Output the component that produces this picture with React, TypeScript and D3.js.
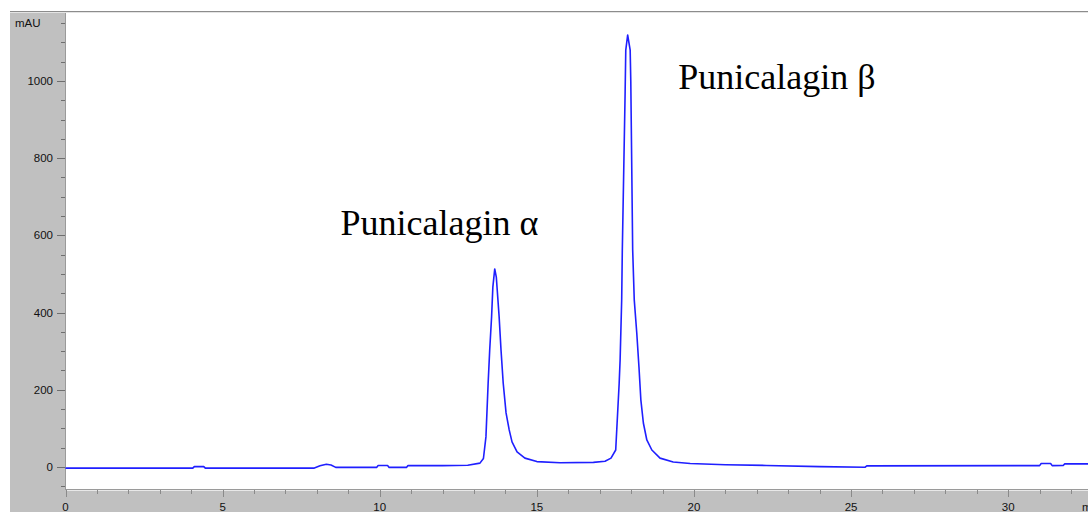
import React, { useRef, useEffect } from 'react';
import * as d3 from 'd3';

// retention time (min) and absorbance (mAU)
const times = [
  0, 4.05, 4.1, 4.4, 4.45, 7.9, 8.1, 8.3, 8.45, 8.6, 8.65, 9.9, 9.95, 10.25, 10.3, 10.85, 10.9,
  12.0, 12.8, 13.19, 13.3, 13.38, 13.45, 13.5, 13.56, 13.6, 13.66, 13.71, 13.8, 13.86, 13.93,
  14.02, 14.12, 14.21, 14.37, 14.62, 15.0, 15.74, 16.8, 17.17, 17.36, 17.51, 17.62, 17.65,
  17.7, 17.72, 17.81, 17.83, 17.89, 17.97, 17.99, 18.05, 18.1, 18.18, 18.25, 18.31, 18.39,
  18.5, 18.66, 18.92, 19.34, 19.88, 21.0, 22.3, 24.0, 25.45, 25.5, 31.0, 31.05, 31.35, 31.4,
  31.75, 31.8, 32.6
];
const absorbance = [
  -3, -3, 1, 1, -3, -3, 3, 7, 5, -1, -1, -1, 4, 4, -1, -1, 4,
  3.5, 4.5, 10, 22, 78, 217, 303, 389, 466, 513, 492, 389, 303, 217,
  140, 96, 65, 39, 23, 14, 11, 12, 15, 23, 44, 217, 277,
  433, 562, 972, 1080, 1119, 1080, 998, 562, 433, 347, 259, 174, 114,
  70, 44, 23, 13, 9, 6, 4, 1, -0.5, 3, 3.5, 9, 9, 3.5,
  4, 8, 8
];

const yMajorTicks = [0, 200, 400, 600, 800, 1000];
const yMinorTicks = d3.range(-50, 1200, 50);
const xMajorTicks = [0, 5, 10, 15, 20, 25, 30];
const xMinorTicks = d3.range(0, 33, 1);

const peakLabels = ['Punicalagin α', 'Punicalagin β'];
const peakLabelAt: [number, number][] = [
  [8.75, 600],
  [19.5, 978]
];

function drawChart(svgEle: SVGSVGElement) {
  const svg = d3.select(svgEle);
  svg.selectAll('*').remove();

  const W = 1088;
  const H = 512;
  const plot = { left: 65.5, top: 13, right: 1088, bottom: 489 };
  const GRAY = '#c0c0c0';
  const AXIS_FONT = '"Liberation Sans", Arial, sans-serif';

  const x = d3.scaleLinear().domain([0, 32.54]).range([plot.left, plot.right]);
  const y = d3.scaleLinear().domain([-57, 1176]).range([plot.bottom, plot.top]);

  // 背景
  svg.append('rect').attr('width', W).attr('height', H).attr('fill', 'white');
  svg.append('rect').attr('x', 10).attr('y', 11).attr('width', W - 10).attr('height', H - 11).attr('fill', GRAY);
  svg.append('line').attr('x1', 10).attr('x2', W).attr('y1', 11.5).attr('y2', 11.5).attr('stroke', '#8c8c8c');
  svg.append('line').attr('x1', 10).attr('x2', W).attr('y1', 12.5).attr('y2', 12.5).attr('stroke', '#e4e4e4');
  svg
    .append('rect')
    .attr('x', plot.left)
    .attr('y', plot.top)
    .attr('width', plot.right - plot.left)
    .attr('height', plot.bottom - plot.top)
    .attr('fill', 'white');

  // y 轴
  svg.append('line').attr('x1', 65.5).attr('x2', 65.5).attr('y1', plot.top).attr('y2', plot.bottom + 2).attr('stroke', '#9a9a9a');
  svg
    .append('g')
    .selectAll('line')
    .data(yMinorTicks)
    .enter()
    .append('line')
    .attr('x1', (d) => (yMajorTicks.includes(d) ? 57 : 61))
    .attr('x2', 65)
    .attr('y1', (d) => Math.round(y(d)) + 0.5)
    .attr('y2', (d) => Math.round(y(d)) + 0.5)
    .attr('stroke', '#6e6e6e');
  svg
    .append('g')
    .selectAll('text')
    .data(yMajorTicks)
    .enter()
    .append('text')
    .attr('x', 53)
    .attr('y', (d) => y(d) + 4)
    .attr('text-anchor', 'end')
    .attr('font-family', AXIS_FONT)
    .attr('font-size', 11.5)
    .attr('fill', '#111')
    .text((d) => d);
  svg
    .append('text')
    .attr('x', 15)
    .attr('y', y(1150) + 4)
    .attr('font-family', AXIS_FONT)
    .attr('font-size', 11.5)
    .attr('fill', '#111')
    .text('mAU');

  // x 轴
  svg.append('line').attr('x1', plot.left).attr('x2', W).attr('y1', 489.5).attr('y2', 489.5).attr('stroke', '#9a9a9a');
  svg.append('line').attr('x1', plot.left).attr('x2', W).attr('y1', 490.5).attr('y2', 490.5).attr('stroke', '#e8e8e8');
  svg
    .append('g')
    .selectAll('line')
    .data(xMinorTicks)
    .enter()
    .append('line')
    .attr('x1', (d) => Math.round(x(d)) + 0.5)
    .attr('x2', (d) => Math.round(x(d)) + 0.5)
    .attr('y1', 490)
    .attr('y2', (d) => (xMajorTicks.includes(d) ? 497 : 494))
    .attr('stroke', '#8a8a8a');
  svg
    .append('g')
    .selectAll('text')
    .data(xMajorTicks)
    .enter()
    .append('text')
    .attr('x', (d) => x(d))
    .attr('y', 511)
    .attr('text-anchor', 'middle')
    .attr('font-family', AXIS_FONT)
    .attr('font-size', 11.5)
    .attr('fill', '#111')
    .text((d) => d);
  svg
    .append('text')
    .attr('x', 1082)
    .attr('y', 511)
    .attr('font-family', AXIS_FONT)
    .attr('font-size', 11.5)
    .attr('fill', '#111')
    .text('min');

  // 色谱曲线
  const points = times.map((t, i) => [t, absorbance[i]] as [number, number]);
  const line = d3
    .line<[number, number]>()
    .x((d) => x(d[0]))
    .y((d) => y(d[1]));
  svg
    .append('path')
    .datum(points)
    .attr('d', line)
    .attr('fill', 'none')
    .attr('stroke', '#1f1fff')
    .attr('stroke-width', 1.6)
    .attr('stroke-linejoin', 'round');

  // 峰标注
  svg
    .append('g')
    .selectAll('text')
    .data(peakLabels)
    .enter()
    .append('text')
    .attr('x', (d, i) => x(peakLabelAt[i][0]))
    .attr('y', (d, i) => y(peakLabelAt[i][1]))
    .attr('font-family', '"Liberation Serif", "Times New Roman", serif')
    .attr('font-size', 36)
    .attr('fill', '#000')
    .text((d) => d);
}

export default function App(): JSX.Element {
  const svgRef = useRef<SVGSVGElement>(null);

  useEffect(() => {
    if (svgRef.current == null) {
      return;
    }
    drawChart(svgRef.current);
  }, []);

  return (
    <svg
      ref={svgRef}
      width={1088}
      height={512}
      style={{ position: 'absolute', left: 0, top: 0, display: 'block' }}
    />
  );
}
